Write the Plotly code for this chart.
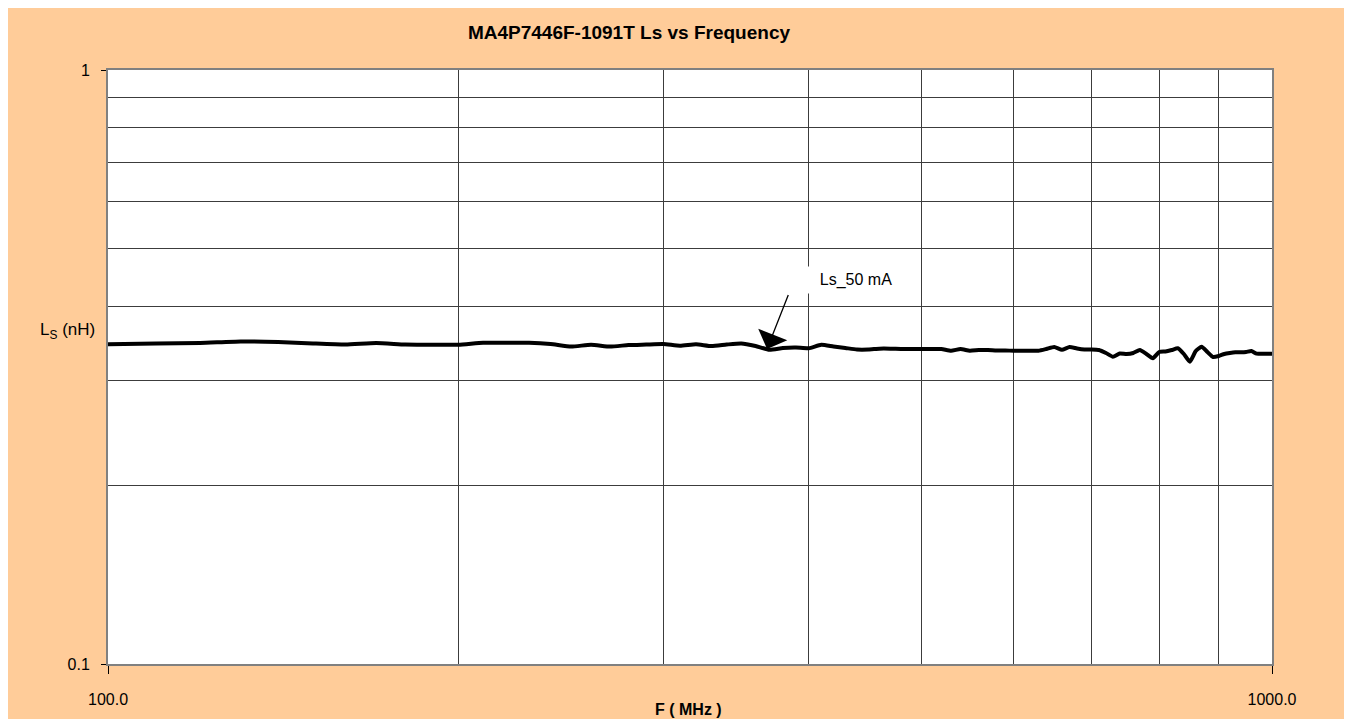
import plotly.graph_objects as go

freq_mhz = [100, 110, 120, 130, 140, 150, 160, 170, 180, 190,
            200, 210, 220, 230, 240, 250, 260, 270, 280, 290,
            300, 310, 320, 330, 340, 350, 360, 370, 380, 390,
            400, 410, 420, 430, 440, 450, 460, 470, 480, 490,
            500, 510, 520, 530, 540, 550, 560, 570, 580, 590,
            600, 610, 620, 630, 640, 650, 660, 670, 680, 690,
            700, 710, 720, 730, 740, 750, 760, 770, 780, 790,
            800, 810, 820, 830, 840, 850, 860, 870, 880, 890,
            900, 910, 920, 930, 940, 950, 960, 970, 980, 990, 1000]

ls_50ma_nh = [0.3454, 0.3464, 0.3471, 0.3491, 0.3484, 0.3464, 0.3450, 0.3471, 0.3450, 0.3447,
              0.3447, 0.3474, 0.3474, 0.3474, 0.3457, 0.3423, 0.3447, 0.3423, 0.3443, 0.3450,
              0.3457, 0.3434, 0.3453, 0.3430, 0.3450, 0.3464, 0.3430, 0.3381, 0.3404, 0.3410,
              0.3400, 0.3447, 0.3423, 0.3404, 0.3384, 0.3384, 0.3395, 0.3395, 0.3391, 0.3391,
              0.3391, 0.3391, 0.3391, 0.3368, 0.3391, 0.3368, 0.3377, 0.3377, 0.3371, 0.3371,
              0.3368, 0.3368, 0.3368, 0.3368, 0.3391, 0.3417, 0.3381, 0.3417, 0.3397, 0.3384,
              0.3384, 0.3377, 0.3339, 0.3291, 0.3333, 0.3326, 0.3339, 0.3377, 0.3326, 0.3271,
              0.3352, 0.3358, 0.3377, 0.3400, 0.3326, 0.3228, 0.3364, 0.3421, 0.3352, 0.3287,
              0.3300, 0.3326, 0.3339, 0.3348, 0.3348, 0.3352, 0.3364, 0.3330, 0.3330, 0.3330, 0.3330]

x_major_ticks = [100, 1000]
x_major_labels = ["100.0", "1000.0"]
x_minor_ticks = [200, 300, 400, 500, 600, 700, 800, 900]
y_major_ticks = [0.1, 1]
y_major_labels = ["0.1", "1"]
y_minor_ticks = [0.2, 0.3, 0.4, 0.5, 0.6, 0.7, 0.8, 0.9]

FONT = "Arial, Liberation Sans, sans-serif"
GRID = "#3c3c3c"
BORDER = "#808080"

fig = go.Figure()
fig.add_trace(go.Scatter(
    x=freq_mhz, y=ls_50ma_nh, mode="lines", name="Ls_50 mA",
    line=dict(color="black", width=4, shape="spline", smoothing=0.5),
    showlegend=False, hoverinfo="x+y",
))

fig.update_layout(
    width=1336, height=711,
    margin=dict(l=100, r=72, t=62, b=55, autoexpand=False),
    paper_bgcolor="#FFCC99",
    plot_bgcolor="white",
    font=dict(family=FONT, size=16, color="black"),
    title=dict(text="<b>MA4P7446F-1091T Ls vs Frequency</b>",
               xref="container", x=0.4648, xanchor="center",
               yref="container", y=0.9662, yanchor="middle",
               font=dict(family=FONT, size=19, color="black")),
    xaxis=dict(type="log", range=[2, 3], tickvals=x_major_ticks, ticktext=x_major_labels,
               ticks="outside", ticklen=8, tickcolor="black", tickwidth=1,
               ticklabelstandoff=12, automargin=False,
               showgrid=True, gridcolor=GRID, gridwidth=1,
               minor=dict(tickvals=x_minor_ticks, showgrid=True, gridcolor=GRID,
                          gridwidth=1, ticks=""),
               showline=True, linecolor=BORDER, linewidth=2, mirror=True,
               zeroline=False, tickfont=dict(size=16)),
    yaxis=dict(type="log", range=[-1, 0], tickvals=y_major_ticks, ticktext=y_major_labels,
               ticks="outside", ticklen=5, tickcolor="black", tickwidth=1,
               ticklabelstandoff=8, automargin=False,
               showgrid=True, gridcolor=GRID, gridwidth=1,
               minor=dict(tickvals=y_minor_ticks, showgrid=True, gridcolor=GRID,
                          gridwidth=1, ticks=""),
               showline=True, linecolor=BORDER, linewidth=2, mirror=True,
               zeroline=False, tickfont=dict(size=16)),
)

# y-axis title (horizontal, left of axis)
fig.add_annotation(text="L<sub>S</sub> (nH)", xref="paper", yref="paper",
                   x=0, y=0.5606, xanchor="right", yanchor="middle", xshift=-11,
                   showarrow=False, font=dict(family=FONT, size=17))
# x-axis title
fig.add_annotation(text="<b>F ( MHz )</b>", xref="paper", yref="paper",
                   x=0.4983, y=-0.0758, xanchor="center", yanchor="middle",
                   showarrow=False, font=dict(family=FONT, size=16))
# series label box
fig.add_annotation(text="Ls_50 mA", xref="paper", yref="paper",
                   x=0.6426, y=0.6465, xanchor="center", yanchor="middle",
                   showarrow=False, bgcolor="white", width=100, height=24,
                   font=dict(family=FONT, size=16))
# arrow pointing to the curve
fig.add_annotation(text=" ", xref="paper", yref="paper", x=0.5662, y=0.5303,
                   showarrow=True, ax=22, ay=-56, arrowhead=1, arrowsize=4,
                   arrowwidth=1.3, arrowcolor="black", standoff=0,
                   font=dict(size=1))

fig.write_html("out.html")
